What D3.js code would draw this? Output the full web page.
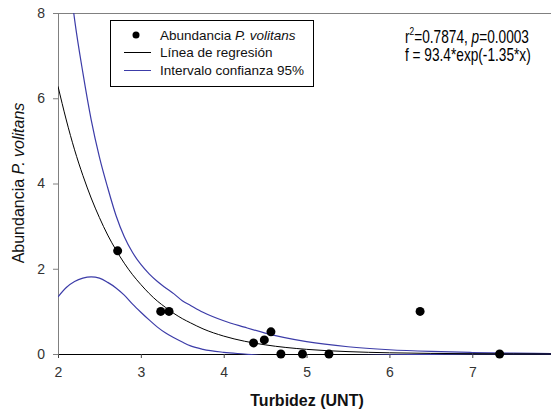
<!DOCTYPE html>
<html>
<head>
<meta charset="utf-8">
<script src="https://cdn.jsdelivr.net/npm/d3@7"></script>
<style>
  body { margin: 0; background: #fff; }
  svg { display: block; font-family: "Liberation Sans", Arial, sans-serif; }
</style>
</head>
<body>
<div id="chart"></div>
<script>
// observed points
const turbidez = [2.72, 3.24, 3.34, 4.36, 4.49, 4.57, 4.69, 4.95, 5.27, 6.37, 7.33];
const abundancia = [2.42, 1.0, 1.0, 0.26, 0.33, 0.52, 0.0, 0.0, 0.0, 1.0, 0.0];

// curves
const curveX = [2.0, 2.1, 2.2, 2.3, 2.4, 2.5, 2.6, 2.7, 2.8, 2.9, 3.0, 3.1, 3.2, 3.3, 3.4, 3.5, 3.6, 3.75, 4.0, 4.25, 4.5, 5.0, 5.5, 6.0, 6.5, 7.0, 7.5, 7.95];
const regresion = [6.28, 5.49, 4.79, 4.19, 3.66, 3.20, 2.79, 2.44, 2.13, 1.86, 1.63, 1.42, 1.24, 1.09, 0.95, 0.83, 0.73, 0.59, 0.42, 0.30, 0.215, 0.109, 0.056, 0.028, 0.014, 0.0073, 0.0037, 0.002];
const superior = [11.2, 9.5, 7.85, 6.6, 5.5, 4.62, 3.9, 3.25, 2.75, 2.38, 2.1, 1.88, 1.70, 1.55, 1.41, 1.25, 1.14, 0.98, 0.78, 0.63, 0.49, 0.29, 0.17, 0.10, 0.06, 0.035, 0.02, 0.01];
const inferior = [1.34, 1.56, 1.70, 1.78, 1.81, 1.78, 1.68, 1.55, 1.38, 1.17, 0.98, 0.80, 0.63, 0.49, 0.38, 0.28, 0.19, 0.11, 0.04, 0.0, -0.04, -0.05, -0.04, -0.02, -0.01, 0, 0, 0];

const xTicks = [2, 3, 4, 5, 6, 7];
const yTicks = [0, 2, 4, 6, 8];

const width = 551;
const height = 413;
const margin = { top: 13, right: 0, bottom: 59, left: 58 };
const blue = '#3c3ca8';

const svg = d3.select('#chart')
  .append('svg')
  .attr('width', width)
  .attr('height', height);

const x = d3.scaleLinear()
  .domain([2, 7.95])
  .range([margin.left, width - margin.right]);

const y = d3.scaleLinear()
  .domain([0, 8])
  .range([height - margin.bottom, margin.top]);

svg.append('clipPath')
  .attr('id', 'plot')
  .append('rect')
  .attr('x', margin.left)
  .attr('y', margin.top)
  .attr('width', width - margin.left)
  .attr('height', y(0) - margin.top + 1);

// top frame line
svg.append('line')
  .attr('x1', margin.left).attr('x2', width)
  .attr('y1', margin.top + 0.5).attr('y2', margin.top + 0.5)
  .attr('stroke', '#808080');

const xAxis = d3.axisBottom(x)
  .tickValues(xTicks)
  .tickFormat(d3.format('d'))
  .tickSize(4)
  .tickSizeOuter(0)
  .tickPadding(9);

const yAxis = d3.axisLeft(y)
  .tickValues(yTicks)
  .tickFormat(d3.format('d'))
  .tickSize(5)
  .tickSizeOuter(0)
  .tickPadding(8);

const gx = svg.append('g')
  .attr('transform', `translate(0, ${y(0)})`)
  .call(xAxis);
gx.select('.domain').attr('stroke', '#000');
gx.selectAll('.tick line').attr('stroke', '#444');

const gy = svg.append('g')
  .attr('transform', `translate(${margin.left}, 0)`)
  .call(yAxis);
gy.select('.domain').attr('stroke', '#808080');
gy.selectAll('.tick line').attr('stroke', '#808080');

svg.selectAll('.tick text')
  .attr('font-size', 14)
  .attr('font-family', '"Liberation Sans", Arial, sans-serif')
  .attr('fill', '#333');

const rows = curveX.map((cx, i) => ({ x: cx, f: regresion[i], up: superior[i], lo: inferior[i] }));

const plot = svg.append('g').attr('clip-path', 'url(#plot)');

const lineOf = key => d3.line()
  .x(d => x(d.x))
  .y(d => y(d[key]))
  .curve(d3.curveMonotoneX);

['up', 'lo'].forEach(k => {
  plot.append('path')
    .datum(rows)
    .attr('fill', 'none')
    .attr('stroke', blue)
    .attr('stroke-width', 1.2)
    .attr('d', lineOf(k));
});

plot.append('path')
  .datum(rows)
  .attr('fill', 'none')
  .attr('stroke', '#000')
  .attr('stroke-width', 1)
  .attr('d', lineOf('f'));

svg.append('g')
  .selectAll('circle')
  .data(turbidez)
  .enter()
  .append('circle')
  .attr('cx', d => x(d))
  .attr('cy', (d, i) => y(abundancia[i]))
  .attr('r', 4.5)
  .attr('fill', '#000');

// axis titles
svg.append('text')
  .attr('x', 307)
  .attr('y', 406)
  .attr('text-anchor', 'middle')
  .attr('font-size', 16)
  .attr('font-weight', 'bold')
  .attr('fill', '#111')
  .text('Turbidez (UNT)');

const yt = svg.append('text')
  .attr('transform', 'translate(24, 183) rotate(-90)')
  .attr('text-anchor', 'middle')
  .attr('font-size', 16)
  .attr('fill', '#111');
yt.append('tspan').text('Abundancia ');
yt.append('tspan').attr('font-style', 'italic').text('P. volitans');

// legend
const lg = svg.append('g');
lg.append('rect')
  .attr('x', 110.5).attr('y', 20.5)
  .attr('width', 203).attr('height', 66)
  .attr('fill', '#fff')
  .attr('stroke', '#000');

lg.append('circle').attr('cx', 136).attr('cy', 35).attr('r', 3.5).attr('fill', '#000');
lg.append('line').attr('x1', 124).attr('x2', 151).attr('y1', 52.5).attr('y2', 52.5).attr('stroke', '#000');
lg.append('line').attr('x1', 124).attr('x2', 151).attr('y1', 70.5).attr('y2', 70.5).attr('stroke', blue);

const legendText = lg.append('g')
  .attr('font-size', 13.5)
  .attr('fill', '#111');
const t1 = legendText.append('text').attr('x', 160).attr('y', 40);
t1.append('tspan').text('Abundancia ');
t1.append('tspan').attr('font-style', 'italic').text('P. volitans');
legendText.append('text').attr('x', 160).attr('y', 57).text('Línea de regresión');
legendText.append('text').attr('x', 160).attr('y', 75).text('Intervalo confianza 95%');

// annotation, narrow like the original
const ann = svg.append('g')
  .attr('transform', 'translate(405, 0) scale(0.76, 1)')
  .attr('font-size', 18)
  .attr('fill', '#000');
const a1 = ann.append('text').attr('x', 0).attr('y', 43);
a1.append('tspan').text('r');
a1.append('tspan').attr('font-size', 11).attr('dy', -8).text('2');
a1.append('tspan').attr('dy', 8).text('=0.7874, ');
a1.append('tspan').attr('font-style', 'italic').text('p');
a1.append('tspan').text('=0.0003');
ann.append('text').attr('x', 0).attr('y', 61)
  .text('f = 93.4*exp(-1.35*x)');
</script>
</body>
</html>
